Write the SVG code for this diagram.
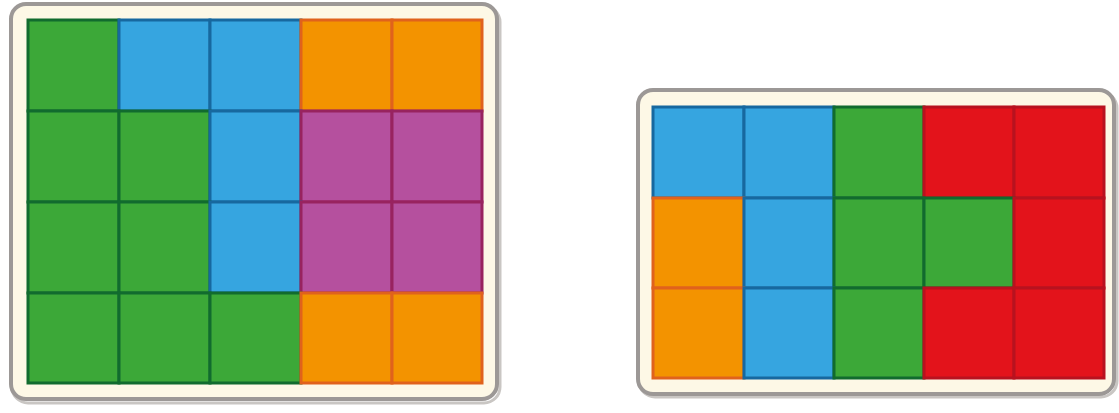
<svg xmlns="http://www.w3.org/2000/svg" width="1119" height="413" viewBox="0 0 1119 413">
<defs>
<style>
.tray{fill:#fdf8e6;stroke:#9c9896;stroke-width:4}
.shadow{fill:none;stroke:#c9c6c3;stroke-width:3}
rect.c{stroke-width:3}
.g{fill:#3ca838;stroke:#116b2e}
.b{fill:#36a5e0;stroke:#17689f}
.o{fill:#f39300;stroke:#e0621c}
.m{fill:#b5509e;stroke:#98235f}
.r{fill:#e3131b;stroke:#b8121f}
</style>
</defs>
<g id="tray-left">
<rect class="shadow" x="12" y="6" width="488" height="397" rx="16"/>
<rect class="tray" x="11" y="4" width="486" height="395" rx="15"/>
<g id="left-grid">
<rect class="c g" x="28" y="20" width="91" height="91"/>
<rect class="c b" x="119" y="20" width="91" height="91"/>
<rect class="c b" x="210" y="20" width="91" height="91"/>
<rect class="c o" x="301" y="20" width="91" height="91"/>
<rect class="c o" x="392" y="20" width="90" height="91"/>
<rect class="c g" x="28" y="111" width="91" height="91"/>
<rect class="c g" x="119" y="111" width="91" height="91"/>
<rect class="c b" x="210" y="111" width="91" height="91"/>
<rect class="c m" x="301" y="111" width="91" height="91"/>
<rect class="c m" x="392" y="111" width="90" height="91"/>
<rect class="c g" x="28" y="202" width="91" height="91"/>
<rect class="c g" x="119" y="202" width="91" height="91"/>
<rect class="c b" x="210" y="202" width="91" height="91"/>
<rect class="c m" x="301" y="202" width="91" height="91"/>
<rect class="c m" x="392" y="202" width="90" height="91"/>
<rect class="c g" x="28" y="293" width="91" height="90"/>
<rect class="c g" x="119" y="293" width="91" height="90"/>
<rect class="c g" x="210" y="293" width="91" height="90"/>
<rect class="c o" x="301" y="293" width="91" height="90"/>
<rect class="c o" x="392" y="293" width="90" height="90"/>
</g>
</g>
<g id="tray-right">
<rect class="shadow" x="639" y="92" width="478" height="305" rx="16"/>
<rect class="tray" x="638" y="90" width="476" height="304" rx="15"/>
<g id="right-grid">
<rect class="c b" x="653" y="107" width="91" height="91"/>
<rect class="c b" x="744" y="107" width="90" height="91"/>
<rect class="c g" x="834" y="107" width="90" height="91"/>
<rect class="c r" x="924" y="107" width="90" height="91"/>
<rect class="c r" x="1014" y="107" width="90" height="91"/>
<rect class="c o" x="653" y="198" width="91" height="90"/>
<rect class="c b" x="744" y="198" width="90" height="90"/>
<rect class="c g" x="834" y="198" width="90" height="90"/>
<rect class="c g" x="924" y="198" width="90" height="90"/>
<rect class="c r" x="1014" y="198" width="90" height="90"/>
<rect class="c o" x="653" y="288" width="91" height="90"/>
<rect class="c b" x="744" y="288" width="90" height="90"/>
<rect class="c g" x="834" y="288" width="90" height="90"/>
<rect class="c r" x="924" y="288" width="90" height="90"/>
<rect class="c r" x="1014" y="288" width="90" height="90"/>
</g>
</g>
</svg>
